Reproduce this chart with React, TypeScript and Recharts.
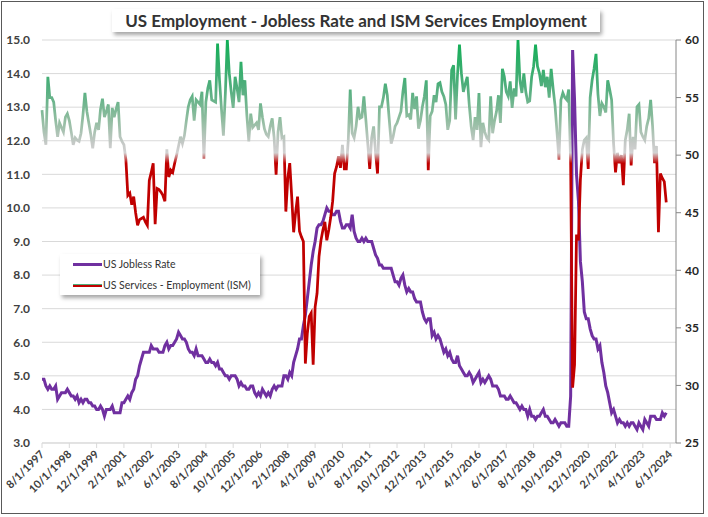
import React from 'react';
import { LineChart, Line, XAxis, YAxis, CartesianGrid } from 'recharts';

// monthly data, Aug 1997 .. Apr 2024
const joblessRate = [
  4.9, 4.9, 4.7, 4.6, 4.7,
  4.6, 4.6, 4.7, 4.3, 4.4, 4.5, 4.5, 4.5, 4.6, 4.5, 4.4, 4.4,
  4.3, 4.4, 4.2, 4.3, 4.2, 4.3, 4.3, 4.2, 4.2, 4.1, 4.1, 4.0,
  4.0, 4.1, 4.0, 3.8, 4.0, 4.0, 4.0, 4.1, 3.9, 3.9, 3.9, 3.9,
  4.2, 4.2, 4.3, 4.4, 4.3, 4.5, 4.6, 4.9, 5.0, 5.3, 5.5, 5.7,
  5.7, 5.7, 5.7, 5.9, 5.8, 5.8, 5.8, 5.7, 5.7, 5.7, 5.9, 6.0,
  5.8, 5.9, 5.9, 6.0, 6.1, 6.3, 6.2, 6.1, 6.1, 6.0, 5.8, 5.7,
  5.7, 5.6, 5.8, 5.6, 5.6, 5.6, 5.5, 5.4, 5.4, 5.5, 5.4, 5.4,
  5.3, 5.4, 5.2, 5.2, 5.1, 5.0, 5.0, 4.9, 5.0, 5.0, 5.0, 4.9,
  4.7, 4.8, 4.7, 4.7, 4.6, 4.6, 4.7, 4.7, 4.5, 4.4, 4.5, 4.4,
  4.6, 4.5, 4.4, 4.5, 4.4, 4.6, 4.7, 4.6, 4.7, 4.7, 4.7, 5.0,
  5.0, 4.9, 5.1, 5.0, 5.4, 5.6, 5.8, 6.1, 6.1, 6.5, 6.8, 7.3,
  7.8, 8.3, 8.7, 9.0, 9.4, 9.5, 9.5, 9.6, 9.8, 10.0, 9.9, 9.9,
  9.8, 9.8, 9.9, 9.9, 9.6, 9.4, 9.4, 9.5, 9.5, 9.4, 9.8, 9.3,
  9.1, 9.0, 9.0, 9.1, 9.0, 9.1, 9.0, 9.0, 9.0, 8.8, 8.6, 8.5,
  8.3, 8.3, 8.2, 8.2, 8.2, 8.2, 8.2, 8.0, 7.8, 7.8, 7.7, 7.9,
  8.0, 7.7, 7.5, 7.6, 7.5, 7.5, 7.3, 7.2, 7.2, 7.2, 6.9, 6.7,
  6.6, 6.7, 6.7, 6.2, 6.3, 6.1, 6.2, 6.1, 5.9, 5.7, 5.8, 5.6,
  5.7, 5.5, 5.4, 5.4, 5.6, 5.3, 5.2, 5.1, 5.0, 5.0, 5.1, 5.0,
  4.8, 4.9, 5.0, 5.1, 4.8, 4.9, 4.8, 4.9, 5.0, 4.9, 4.7, 4.7,
  4.7, 4.6, 4.4, 4.4, 4.4, 4.3, 4.3, 4.4, 4.3, 4.2, 4.2, 4.1,
  4.0, 4.1, 4.0, 4.0, 3.8, 4.0, 3.8, 3.8, 3.7, 3.8, 3.8, 3.9,
  4.0, 3.8, 3.8, 3.7, 3.6, 3.6, 3.7, 3.6, 3.5, 3.6, 3.6, 3.6,
  3.5, 3.5, 4.4, 14.7, 13.2, 11.0, 10.2, 8.4, 7.8, 6.9, 6.7, 6.7,
  6.4, 6.2, 6.1, 6.1, 5.8, 5.9, 5.4, 5.1, 4.7, 4.5, 4.2, 3.9,
  4.0, 3.8, 3.6, 3.7, 3.6, 3.6, 3.5, 3.6, 3.5, 3.6, 3.6, 3.5,
  3.4, 3.6, 3.5, 3.4, 3.7, 3.6, 3.5, 3.8, 3.8, 3.8, 3.7, 3.7,
  3.7, 3.9, 3.8, 3.9,
];

const ismEmployment = [
  53.9, 52.0, 50.9, 56.8, 55.0,
  55.0, 54.6, 53.0, 51.6, 52.8, 52.4, 52.0, 53.3, 53.6, 53.0, 52.0, 50.9,
  51.5, 51.3, 51.2, 51.9, 53.5, 55.4, 53.8, 52.8, 51.8, 50.6, 52.0, 52.8,
  52.2, 54.0, 54.9, 53.3, 53.8, 54.4, 50.6, 54.1, 53.3, 54.0, 54.6, 51.6,
  51.2, 50.9, 49.6, 46.5, 46.7, 45.7, 46.4, 45.0, 43.9, 44.4, 44.5, 44.6,
  44.2, 43.9, 47.8, 48.5, 49.3, 44.0, 47.1, 47.0, 46.8, 46.5, 46.0, 50.5,
  48.1, 48.7, 48.5, 49.3, 50.0, 50.8, 51.6, 51.0, 51.7, 53.0, 54.2, 54.8,
  55.1, 53.0, 54.8, 54.6, 54.4, 55.5, 49.7, 54.6, 55.8, 56.5, 54.8, 54.7,
  54.6, 59.7, 56.5, 54.0, 51.7, 55.4, 60.0, 57.1, 55.5, 54.1, 56.8, 55.8,
  54.6, 58.1, 55.2, 56.5, 53.5, 51.2, 53.6, 52.4, 52.6, 52.8, 52.2, 54.5,
  53.3, 52.3, 51.8, 51.6, 52.5, 53.2, 51.5, 48.3, 52.0, 53.3, 51.5, 51.6,
  45.1, 48.0, 49.3, 46.4, 43.3, 45.0, 46.4, 43.4, 42.9, 42.5, 31.9, 34.5,
  36.0, 36.3, 31.8, 36.8, 38.0, 41.2, 42.6, 43.5, 44.2, 42.6, 43.5, 44.6,
  46.0, 48.4, 49.0, 49.9, 48.9, 50.9, 48.8, 48.8, 51.3, 55.7, 51.9, 51.5,
  52.5, 54.2, 53.2, 53.3, 55.1, 53.1, 51.0, 48.8, 51.5, 52.5, 50.2, 48.4,
  54.2, 54.2, 55.0, 56.2, 55.2, 53.1, 51.0, 51.6, 52.5, 52.8, 53.3, 53.8,
  55.5, 56.7, 53.4, 53.5, 53.1, 55.4, 54.0, 55.1, 52.3, 53.0, 54.2, 55.1,
  56.5, 48.7, 53.4, 53.8, 55.2, 54.6, 56.2, 56.3, 55.5, 55.1, 54.4, 52.2,
  53.0, 57.4, 57.8, 53.1, 57.0, 59.6, 57.1, 55.5, 56.2, 56.8, 54.4, 52.5,
  51.3, 53.3, 52.2, 55.4, 50.7, 52.8, 52.0, 51.5, 51.3, 55.1, 51.9, 53.0,
  53.8, 55.2, 52.8, 57.5, 56.8, 55.5, 55.1, 56.4, 54.1, 55.8, 55.1, 60.0,
  56.5, 55.4, 57.1, 55.5, 54.6, 54.7, 56.8, 57.7, 59.6, 57.7, 57.1, 56.0,
  57.4, 55.9, 56.8, 55.0, 57.5, 55.8, 54.3, 52.0, 49.6, 54.8, 55.4, 55.0,
  54.8, 55.7, 49.3, 29.8, 31.8, 43.1, 42.6, 47.9, 50.5, 51.3, 51.5, 48.8,
  55.0, 56.5, 57.5, 58.8, 55.3, 53.4, 54.5, 54.2, 53.7, 56.5, 55.7, 54.8,
  51.0, 48.5, 50.2, 49.3, 50.0, 47.4, 51.3, 52.2, 53.6, 49.1, 51.6, 50.5,
  54.2, 54.4, 52.0, 51.6, 51.3, 52.5, 53.2, 54.8, 52.5, 49.3, 50.8, 43.3,
  48.4, 48.0, 47.7, 45.9,
];

const tickLabels = [
  '8/1/1997', '10/1/1998', '12/1/1999', '2/1/2001', '4/1/2002', '6/1/2003',
  '8/1/2004', '10/1/2005', '12/1/2006', '2/1/2008', '4/1/2009', '6/1/2010',
  '8/1/2011', '10/1/2012', '12/1/2013', '2/1/2015', '4/1/2016', '6/1/2017',
  '8/1/2018', '10/1/2019', '12/1/2020', '2/1/2022', '4/1/2023', '6/1/2024',
];

const leftTicks = [3, 4, 5, 6, 7, 8, 9, 10, 11, 12, 13, 14, 15];
const rightTicks = [25, 30, 35, 40, 45, 50, 55, 60];

// month index counted from 8/1/1997
const monthIndex = (label: string) => {
  const [m, , y] = label.split('/').map(Number);
  return (y - 1997) * 12 + (m - 8);
};
const monthLabel = (idx: number) => {
  const total = 1997 * 12 + 7 + idx;
  return `${(total % 12) + 1}/1/${Math.floor(total / 12)}`;
};

const data = joblessRate.map((v, k) => ({
  idx: k,
  date: monthLabel(k),
  jobless: v,
  ism: ismEmployment[k],
}));

const xTicks = tickLabels.map(monthIndex);

const FONT = 'Lato, "Open Sans", sans-serif';

// plot area in pixels (for the gradient)
const PLOT_TOP = 40;
const PLOT_BOTTOM = 443;
const off = (r: number) => (60 - r) / 35;

const DateTick = (props: any) => {
  const { x, y, payload } = props;
  const ax = x + 3;
  const ay = y + 5;
  return (
    <text
      x={ax}
      y={ay}
      transform={`rotate(-45, ${ax}, ${ay})`}
      textAnchor="end"
      fontSize={11}
      fontWeight="bold"
      fill="#404040"
      fontFamily={FONT}
    >
      {monthLabel(payload.value)}
    </text>
  );
};

const App = () => {
  return (
    <div style={{ position: 'absolute', left: 0, top: 0, width: 708, height: 517, background: '#fff', fontFamily: FONT }}>
      <div
        style={{
          position: 'absolute', left: 1, top: 0.5, width: 702.5, height: 513, boxSizing: 'border-box',
          border: '1.5px solid #595959', pointerEvents: 'none',
        }}
      />
      <LineChart width={708} height={517} data={data} margin={{ top: 40, right: 0, bottom: 14, left: 8 }}>
        <defs>
          <linearGradient id="ismStroke" gradientUnits="userSpaceOnUse" x1="0" y1={PLOT_TOP} x2="0" y2={PLOT_BOTTOM}>
            <stop offset={off(60)} stopColor="#0fae55" />
            <stop offset={off(56)} stopColor="#4fae7c" />
            <stop offset={off(53)} stopColor="#92bda1" />
            <stop offset={off(51)} stopColor="#c6c9c7" />
            <stop offset={off(50.2)} stopColor="#d2d2d2" />
            <stop offset={off(49.3)} stopColor="#c00000" />
            <stop offset={1} stopColor="#c00000" />
          </linearGradient>
        </defs>
        <CartesianGrid yAxisId="left" vertical={false} stroke="#d9d9d9" strokeWidth={1} />
        <XAxis
          dataKey="idx"
          type="number"
          domain={[0, 325]}
          ticks={xTicks}
          interval={0}
          height={60}
          tick={<DateTick />}
          tickSize={5}
          tickMargin={2}
          tickLine={{ stroke: '#d9d9d9' }}
          axisLine={{ stroke: '#d9d9d9' }}
        />
        <YAxis
          yAxisId="left"
          domain={[3, 15]}
          ticks={leftTicks}
          interval={0}
          width={34}
          tickFormatter={(v: number) => v.toFixed(1)}
          axisLine={false}
          tickLine={false}
          tickSize={0}
          tickMargin={12}
          tick={{ fontSize: 12, fontWeight: 'bold', fill: '#404040', fontFamily: FONT }}
        />
        <YAxis
          yAxisId="right"
          orientation="right"
          domain={[25, 60]}
          ticks={rightTicks}
          interval={0}
          width={32}
          axisLine={{ stroke: '#868686' }}
          tickLine={{ stroke: '#868686' }}
          tickSize={5}
          tickMargin={4}
          tick={{ fontSize: 12, fontWeight: 'bold', fill: '#262626', fontFamily: FONT }}
        />
        <Line
          yAxisId="left"
          type="linear"
          dataKey="jobless"
          stroke="#7030a0"
          strokeWidth={3}
          dot={false}
          isAnimationActive={false}
        />
        <Line
          yAxisId="right"
          type="linear"
          dataKey="ism"
          stroke="url(#ismStroke)"
          strokeWidth={2.75}
          dot={false}
          isAnimationActive={false}
        />
      </LineChart>

      <div
        style={{
          position: 'absolute', left: 112, top: 9, width: 488, height: 23,
          background: '#fff', boxShadow: '2px 3px 4px rgba(0,0,0,0.35)',
          textAlign: 'center', lineHeight: '23px', fontSize: 17, fontWeight: 'bold', color: '#333',
        }}
      >
        US Employment - Jobless Rate and ISM Services Employment
      </div>

      <div
        style={{
          position: 'absolute', left: 60, top: 254, width: 200, height: 41,
          background: '#fff', boxShadow: '2px 3px 4px rgba(0,0,0,0.35)',
          fontSize: 10.5, color: '#333',
        }}
      >
        <div style={{ position: 'absolute', left: 13, top: 4, display: 'flex', alignItems: 'center' }}>
          <span style={{ display: 'inline-block', width: 29, height: 3, background: '#7030a0' }} />
          <span style={{ marginLeft: 1 }}>US Jobless Rate</span>
        </div>
        <div style={{ position: 'absolute', left: 13, top: 25, display: 'flex', alignItems: 'center' }}>
          <span style={{ display: 'inline-block', width: 29, height: 3, background: '#c00000', borderTop: '1px solid #4fae7c', boxSizing: 'border-box' }} />
          <span style={{ marginLeft: 1 }}>US Services - Employment (ISM)</span>
        </div>
      </div>
    </div>
  );
};

export default App;
